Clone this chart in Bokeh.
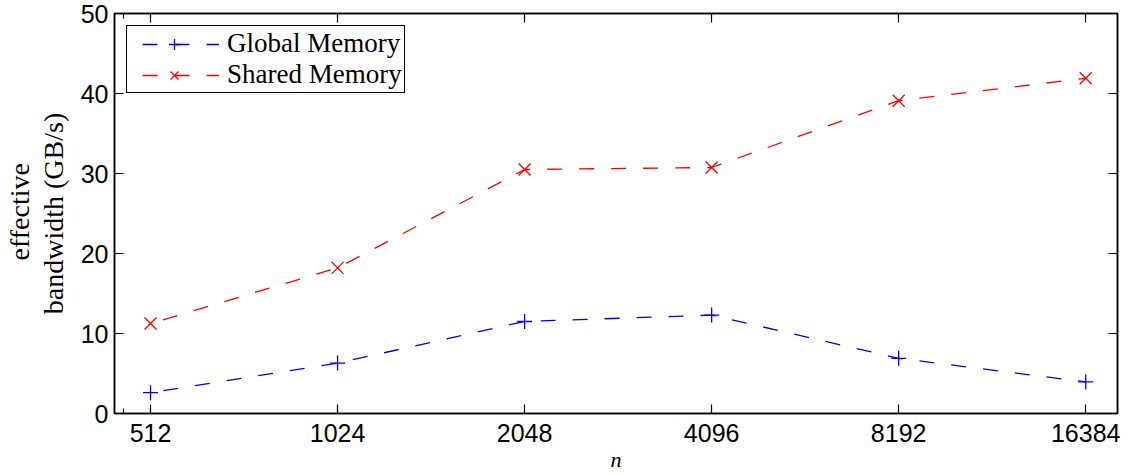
import math
from bokeh.plotting import figure
from bokeh.models import (FixedTicker, LinearAxis, LogAxis, Legend, LegendItem, Range1d, Title)
from bokeh.embed import file_html
from bokeh.resources import INLINE

# ---- data ----
n_values = [512, 1024, 2048, 4096, 8192, 16384]
tick_labels = ["512", "1024", "2048", "4096", "8192", "16384"]
global_mem = [2.6, 6.3, 11.5, 12.3, 6.9, 3.95]
shared_mem = [11.25, 18.2, 30.5, 30.75, 39.1, 41.9]
y_ticks = [0, 10, 20, 30, 40, 50]

X0, X1 = 448, 18432
p = figure(width=1129, height=475, x_axis_type="log",
           x_range=Range1d(X0, X1), y_range=Range1d(0, 50),
           output_backend="svg", toolbar_location=None,
           min_border_left=114, min_border_right=12, min_border_top=13, min_border_bottom=62)
p.background_fill_color = "white"
p.border_fill_color = "white"
p.xgrid.visible = False
p.ygrid.visible = False
p.outline_line_color = "black"
p.outline_line_width = 1.5
p.outline_line_alpha = 1.0

tick_font = "Liberation Sans"
serif = "Liberation Serif"

xticker = FixedTicker(ticks=n_values, minor_ticks=[463])
yticker = FixedTicker(ticks=y_ticks)

def style_axis(ax, labels=True):
    ax.axis_line_color = "black"
    ax.axis_line_width = 1.5
    ax.major_tick_line_color = "black"
    ax.major_tick_line_width = 1.2
    ax.minor_tick_line_color = "black"
    ax.minor_tick_line_width = 1.2
    ax.major_tick_in = 9
    ax.major_tick_out = 0
    ax.minor_tick_in = 5
    ax.minor_tick_out = 0
    ax.major_label_text_font = tick_font
    ax.major_label_text_font_size = "25px"
    ax.major_label_text_color = "black"
    if not labels:
        ax.major_label_text_font_size = "0px"
        ax.major_label_text_alpha = 0
        ax.major_label_standoff = 0

# bottom
xa = p.xaxis[0]
xa.ticker = xticker
xa.major_label_overrides = {v: t for v, t in zip(n_values, tick_labels)}
style_axis(xa)
xa.major_label_standoff = 10
xa.axis_label = "n"
xa.axis_label_text_font = serif
xa.axis_label_text_font_style = "italic"
xa.axis_label_text_font_size = "22px"
xa.axis_label_text_color = "black"
xa.axis_label_standoff = 2

# left
ya = p.yaxis[0]
ya.ticker = yticker
style_axis(ya)
ya.minor_tick_in = 0
ya.major_label_standoff = 6
ya.axis_label = "bandwidth (GB/s)"
ya.axis_label_text_font = serif
ya.axis_label_text_font_style = "normal"
ya.axis_label_text_font_size = "28px"
ya.axis_label_text_color = "black"
ya.axis_label_standoff = 9

# outer line of the y title
t_eff = Title(text="effective", align="left", text_font=serif, text_font_size="28px",
              text_font_style="normal", text_color="black", standoff=0, offset=153)
p.add_layout(t_eff, "left")

# top
ta = LogAxis(ticker=xticker)
style_axis(ta, labels=False)
ta.major_label_overrides = {v: "" for v in n_values}
p.add_layout(ta, "above")
# right
ra = LinearAxis(ticker=yticker)
style_axis(ra, labels=False)
ra.major_label_overrides = {v: "" for v in y_ticks}
ra.minor_tick_in = 0
p.add_layout(ra, "right")

dash = "15 17"
gl = p.line(n_values, global_mem, line_color="#0000ff", line_width=1.3, line_dash=dash,
            line_dash_offset=19)
gm = p.scatter(n_values, global_mem, marker="cross", size=15, line_color="#0000ff", line_width=1.3)
sl = p.line(n_values, shared_mem, line_color="#ff0000", line_width=1.3, line_dash=dash,
            line_dash_offset=19)
sm = p.scatter(n_values, shared_mem, marker="x", size=17, line_color="#ff0000", line_width=1.3)

legend = Legend(items=[LegendItem(label="Global Memory", renderers=[gl, gm]),
                       LegendItem(label="Shared Memory", renderers=[sl, sm])],
                location="top_left")
legend.label_text_font = serif
legend.label_text_font_size = "27px"
legend.label_text_color = "black"
legend.border_line_color = "black"
legend.border_line_width = 1.5
legend.border_line_alpha = 1.0
legend.background_fill_alpha = 1.0
legend.padding = 2
legend.spacing = 0
legend.margin = 12
legend.glyph_width = 90
legend.glyph_height = 28
legend.label_height = 28
legend.label_standoff = 8
p.add_layout(legend, "center")

open("out.html", "w").write(file_html(p, INLINE))
